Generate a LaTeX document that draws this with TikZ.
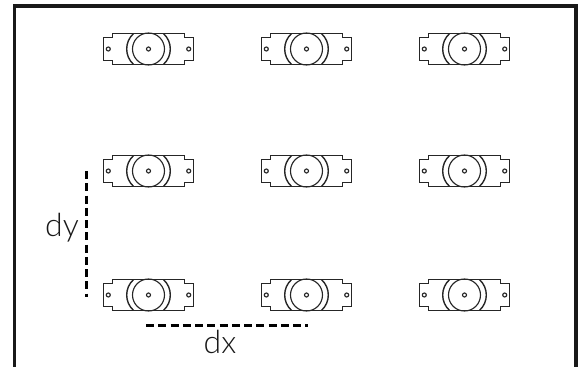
\documentclass[tikz,border=0pt]{standalone}
\usepackage{fontspec}
\setmainfont{Lato Light}
\tikzset{
  x=0.75pt,y=-0.75pt,
  frameline/.style={line width=2.5pt,black!90},
  partline/.style={line width=0.85pt,black!85},
  dimline/.style={line width=2.2pt,black,dash pattern=on 6pt off 3.2pt},
  dimtext/.style={font=\fontsize{24}{28}\selectfont,black!90,inner sep=0pt},
  servo/.pic={
    \draw[partline] (-45,-11.5) -- (-36,-11.5) -- (-36,-15.2) -- (36,-15.2) -- (36,-11.5) -- (45,-11.5)
      -- (45,11.5) -- (36,11.5) -- (36,15.2) -- (-36,15.2) -- (-36,11.5) -- (-45,11.5) -- cycle;
    \draw[partline] (0,0) circle[radius=16];
    \draw[partline,line width=1.05pt] (-15.2,-15.2) .. controls (-24,-7) and (-24,7) .. (-15.2,15.2);
    \draw[partline,line width=1.05pt] (15.2,-15.2) .. controls (24,-7) and (24,7) .. (15.2,15.2);
    \draw[partline] (0,0) circle[radius=2];
    \draw[partline] (-40.2,0) circle[radius=2];
    \draw[partline] (40.2,0) circle[radius=2];
  }
}
\begin{document}
\begin{tikzpicture}
\useasboundingbox (0,0) rectangle (579,367);
\draw[frameline] (14.5,367) -- (14.5,6) -- (576,6) -- (576,367);
\foreach \r/\yy in {a/49,b/171,c/295}{
  \foreach \c/\xx in {1/148.5,2/306.5,3/464.5}{
    \pic (servo\r\c) at (\xx,\yy) {servo};
  }
}
\coordinate (dxa) at (146,325.7);
\coordinate (dxb) at (308,325.7);
\coordinate (dya) at (86.5,171);
\coordinate (dyb) at (86.5,297);
\draw[dimline] (dxa) -- (dxb);
\draw[dimline] (dya) -- (dyb);
\node[dimtext] (dx) at (220,342) {dx};
\node[dimtext] (dy) at (62,228) {dy};
\end{tikzpicture}
\end{document}
